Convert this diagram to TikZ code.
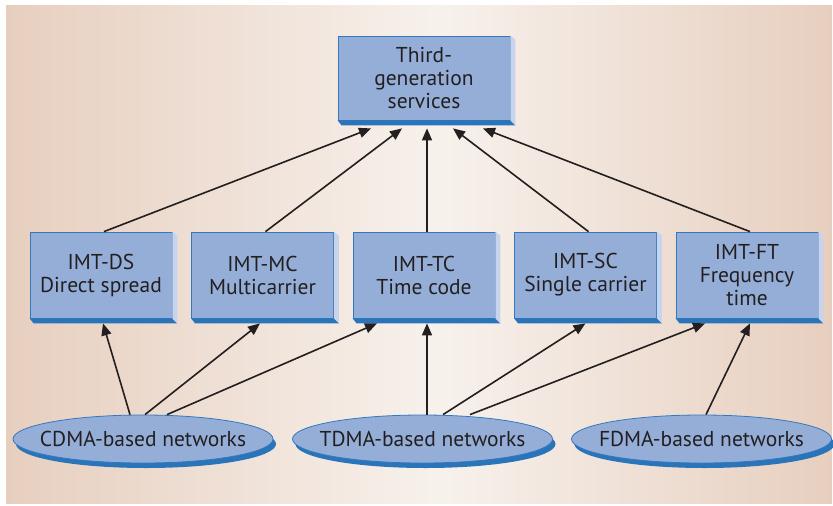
\documentclass[tikz,border=0pt]{standalone}
\usepackage{fontspec}
\setmainfont{PT Sans}
\usetikzlibrary{arrows.meta,shapes.geometric,shadows}
\definecolor{boxface}{RGB}{148,174,216}
\definecolor{boxedge}{RGB}{52,120,190}
\definecolor{boxbottom}{RGB}{42,116,185}
\definecolor{boxside}{RGB}{200,212,236}
\definecolor{bgtan}{RGB}{231,207,191}
\definecolor{bglight}{RGB}{247,241,236}
\definecolor{ink}{RGB}{35,31,32}
\begin{document}
\begin{tikzpicture}[x=1pt,y=-1pt,line join=round,>={Triangle[length=12pt,width=10pt]}]
    \tikzset{svc/.style={draw=boxedge,fill=boxface,line width=0.8pt,minimum width=142pt,minimum height=86pt,
            inner sep=0pt,align=center,text=ink,font=\fontsize{21.5}{23}\selectfont},
        net/.style={ellipse,draw=boxedge,fill=boxface,line width=0.8pt,minimum width=260pt,minimum height=48pt,
            inner xsep=-18pt,inner ysep=0pt,text=ink,font=\fontsize{21.5}{23}\selectfont,
            general shadow={fill=boxbottom,shadow xshift=3pt,shadow yshift=-5pt}},
        link/.style={->,line width=1.6pt,draw=ink,fill=ink}}
    \useasboundingbox (0,0) rectangle (833,506);
    % background
    \shade[left color=bgtan,right color=bglight] (6,5) rectangle (440,503);
    \shade[left color=bglight,right color=bgtan] (440,5) rectangle (832,503);
    % boxes
    \node[svc,minimum width=172pt,minimum height=84pt] (top) at (424,78) {Third-\\generation\\services};
    \node[svc] (ds) at (101,275) {IMT-DS\\Direct spread};
    \node[svc] (mc) at (262.5,275) {IMT-MC\\Multicarrier};
    \node[svc] (tc) at (424,275) {IMT-TC\\Time code};
    \node[svc] (sc) at (585.5,275) {IMT-SC\\Single carrier};
    \node[svc] (ft) at (747,275) {IMT-FT\\Frequency\\time};
    \foreach \n in {top,ds,mc,tc,sc,ft}{
        \fill[boxbottom] (\n.south west) -- ++(4,5) -- ([shift={(5,5)}]\n.south east) -- (\n.south east) -- cycle;
        \fill[boxside] (\n.north east) -- ++(5,4) -- ([shift={(5,5)}]\n.south east) -- (\n.south east) -- cycle;
    }
    % networks
    \node[net] (cdma) at (143,439) {CDMA-based networks};
    \node[net] (tdma) at (422.5,439) {TDMA-based networks};
    \node[net] (fdma) at (701.5,439) {FDMA-based networks};
    % arrows
    \foreach \n/\dx in {ds/-53,mc/-22,tc/3,sc/29,ft/59}
        \draw[link] ([xshift=3pt]\n.north) -- ([xshift=\dx pt,yshift=-8pt]top.south);
    \foreach \src/\sx/\dst/\dx in {cdma/-13/ds/2,cdma/2/mc/-2.5,cdma/24/tc/-47,tdma/4.5/tc/3,
        tdma/20.5/sc/0,tdma/47.5/ft/-42,fdma/4.5/ft/3}
        \draw[link] ([xshift=\sx pt]\src.north) -- ([xshift=\dx pt,yshift=-5pt]\dst.south);
\end{tikzpicture}
\end{document}
